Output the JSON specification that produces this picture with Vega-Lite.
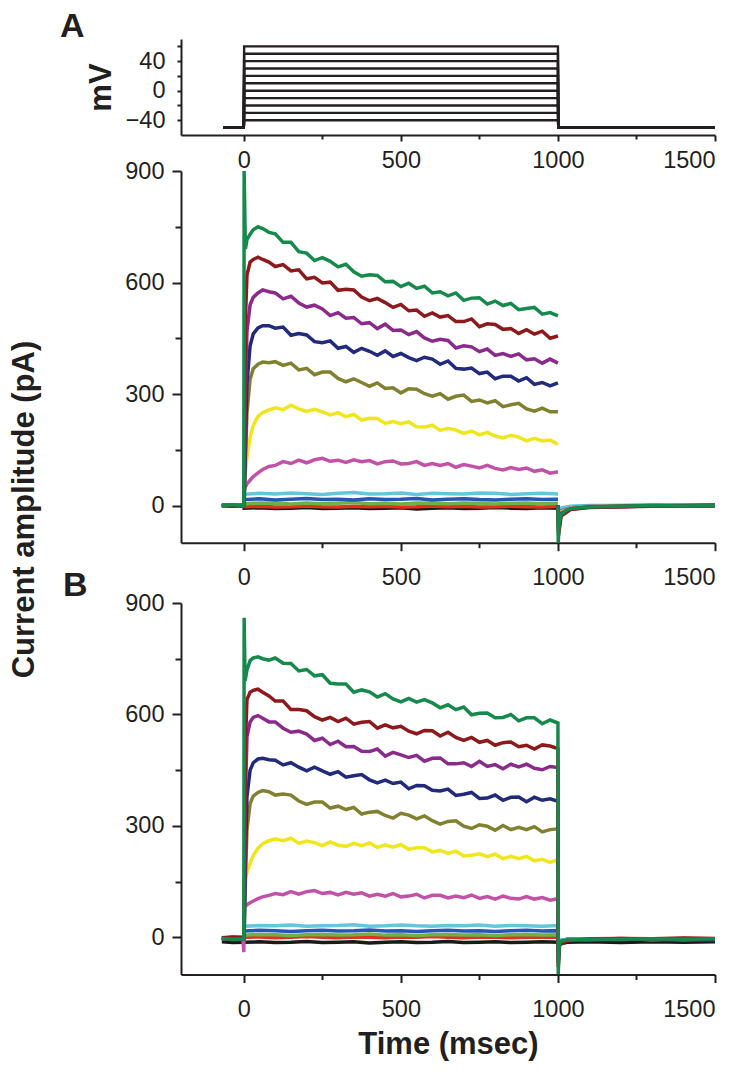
{
"$schema": "https://vega.github.io/schema/vega-lite/v6.json",
"padding": {"left": 8, "top": 10, "right": 5, "bottom": 5},
"config": {
 "view": {"stroke": null},
 "axis": {"grid": false, "domainColor": "#231f20", "domainWidth": 2, "tickColor": "#231f20", "tickWidth": 2, "labelColor": "#231f20", "labelFont": "Liberation Sans", "labelFontSize": 23.5, "titleFont": "Liberation Sans", "titleFontSize": 31, "titleFontWeight": "bold", "titleColor": "#231f20"},
 "title": {"font": "Liberation Sans", "fontSize": 34, "fontWeight": "bold", "color": "#231f20", "anchor": "start", "frame": "group"}
},
"datasets": {
"mv": [
{"k":-40,"t":-65,"v":-50},{"k":-40,"t":0,"v":-50},{"k":-40,"t":1,"v":-40},{"k":-40,"t":1000,"v":-40},{"k":-40,"t":1001,"v":-50},{"k":-40,"t":1500,"v":-50},
{"k":-30,"t":-65,"v":-50},{"k":-30,"t":0,"v":-50},{"k":-30,"t":1,"v":-30},{"k":-30,"t":1000,"v":-30},{"k":-30,"t":1001,"v":-50},{"k":-30,"t":1500,"v":-50},
{"k":-20,"t":-65,"v":-50},{"k":-20,"t":0,"v":-50},{"k":-20,"t":1,"v":-20},{"k":-20,"t":1000,"v":-20},{"k":-20,"t":1001,"v":-50},{"k":-20,"t":1500,"v":-50},
{"k":-10,"t":-65,"v":-50},{"k":-10,"t":0,"v":-50},{"k":-10,"t":1,"v":-10},{"k":-10,"t":1000,"v":-10},{"k":-10,"t":1001,"v":-50},{"k":-10,"t":1500,"v":-50},
{"k":0,"t":-65,"v":-50},{"k":0,"t":0,"v":-50},{"k":0,"t":1,"v":0},{"k":0,"t":1000,"v":0},{"k":0,"t":1001,"v":-50},{"k":0,"t":1500,"v":-50},
{"k":10,"t":-65,"v":-50},{"k":10,"t":0,"v":-50},{"k":10,"t":1,"v":10},{"k":10,"t":1000,"v":10},{"k":10,"t":1001,"v":-50},{"k":10,"t":1500,"v":-50},
{"k":20,"t":-65,"v":-50},{"k":20,"t":0,"v":-50},{"k":20,"t":1,"v":20},{"k":20,"t":1000,"v":20},{"k":20,"t":1001,"v":-50},{"k":20,"t":1500,"v":-50},
{"k":30,"t":-65,"v":-50},{"k":30,"t":0,"v":-50},{"k":30,"t":1,"v":30},{"k":30,"t":1000,"v":30},{"k":30,"t":1001,"v":-50},{"k":30,"t":1500,"v":-50},
{"k":40,"t":-65,"v":-50},{"k":40,"t":0,"v":-50},{"k":40,"t":1,"v":40},{"k":40,"t":1000,"v":40},{"k":40,"t":1001,"v":-50},{"k":40,"t":1500,"v":-50},
{"k":50,"t":-65,"v":-50},{"k":50,"t":0,"v":-50},{"k":50,"t":1,"v":50},{"k":50,"t":1000,"v":50},{"k":50,"t":1001,"v":-50},{"k":50,"t":1500,"v":-50},
{"k":60,"t":-65,"v":-50},{"k":60,"t":0,"v":-50},{"k":60,"t":1,"v":60},{"k":60,"t":1000,"v":60},{"k":60,"t":1001,"v":-50},{"k":60,"t":1500,"v":-50}
],
"cur": [
{"p":"A","c":"k","t":-70,"v":-2},{"p":"A","c":"k","t":-35,"v":1},{"p":"A","c":"k","t":0,"v":-1},
{"p":"A","c":"k","t":1,"v":-7},{"p":"A","c":"k","t":50,"v":-6},{"p":"A","c":"k","t":100,"v":-8},{"p":"A","c":"k","t":150,"v":-7},{"p":"A","c":"k","t":200,"v":-5},{"p":"A","c":"k","t":250,"v":-8},{"p":"A","c":"k","t":300,"v":-7},{"p":"A","c":"k","t":350,"v":-6},{"p":"A","c":"k","t":400,"v":-8},{"p":"A","c":"k","t":450,"v":-7},{"p":"A","c":"k","t":500,"v":-6},{"p":"A","c":"k","t":550,"v":-9},{"p":"A","c":"k","t":600,"v":-7},{"p":"A","c":"k","t":650,"v":-6},{"p":"A","c":"k","t":700,"v":-8},{"p":"A","c":"k","t":750,"v":-7},{"p":"A","c":"k","t":800,"v":-5},{"p":"A","c":"k","t":850,"v":-7},{"p":"A","c":"k","t":900,"v":-8},{"p":"A","c":"k","t":950,"v":-6},{"p":"A","c":"k","t":1000,"v":-7},
{"p":"A","c":"k","s":1,"t":1000,"v":-3},{"p":"A","c":"k","s":1,"t":1002,"v":-30},{"p":"A","c":"k","s":1,"t":1010,"v":-14},{"p":"A","c":"k","s":1,"t":1040,"v":-7},{"p":"A","c":"k","s":1,"t":1100,"v":-3},{"p":"A","c":"k","s":1,"t":1300,"v":-1},{"p":"A","c":"k","s":1,"t":1500,"v":-2},
{"p":"A","c":"r","t":-70,"v":1},{"p":"A","c":"r","t":-35,"v":-1},{"p":"A","c":"r","t":0,"v":0},
{"p":"A","c":"r","t":1,"v":-3},{"p":"A","c":"r","t":50,"v":-2},{"p":"A","c":"r","t":100,"v":-4},{"p":"A","c":"r","t":150,"v":-3},{"p":"A","c":"r","t":200,"v":-1},{"p":"A","c":"r","t":250,"v":-3},{"p":"A","c":"r","t":300,"v":-4},{"p":"A","c":"r","t":350,"v":-2},{"p":"A","c":"r","t":400,"v":-3},{"p":"A","c":"r","t":450,"v":-2},{"p":"A","c":"r","t":500,"v":-4},{"p":"A","c":"r","t":550,"v":-3},{"p":"A","c":"r","t":600,"v":-1},{"p":"A","c":"r","t":650,"v":-3},{"p":"A","c":"r","t":700,"v":-2},{"p":"A","c":"r","t":750,"v":-4},{"p":"A","c":"r","t":800,"v":-3},{"p":"A","c":"r","t":850,"v":-2},{"p":"A","c":"r","t":900,"v":-3},{"p":"A","c":"r","t":950,"v":-4},{"p":"A","c":"r","t":1000,"v":-2},
{"p":"A","c":"r","s":1,"t":1000,"v":-1},{"p":"A","c":"r","s":1,"t":1002,"v":-25},{"p":"A","c":"r","s":1,"t":1010,"v":-10},{"p":"A","c":"r","s":1,"t":1040,"v":-5},{"p":"A","c":"r","s":1,"t":1100,"v":-2},{"p":"A","c":"r","s":1,"t":1300,"v":0},{"p":"A","c":"r","s":1,"t":1500,"v":1},
{"p":"A","c":"lg","t":-70,"v":0},{"p":"A","c":"lg","t":-35,"v":2},{"p":"A","c":"lg","t":0,"v":1},
{"p":"A","c":"lg","t":1,"v":5},{"p":"A","c":"lg","t":50,"v":7},{"p":"A","c":"lg","t":100,"v":6},{"p":"A","c":"lg","t":150,"v":4},{"p":"A","c":"lg","t":200,"v":7},{"p":"A","c":"lg","t":250,"v":5},{"p":"A","c":"lg","t":300,"v":6},{"p":"A","c":"lg","t":350,"v":8},{"p":"A","c":"lg","t":400,"v":5},{"p":"A","c":"lg","t":450,"v":6},{"p":"A","c":"lg","t":500,"v":4},{"p":"A","c":"lg","t":550,"v":7},{"p":"A","c":"lg","t":600,"v":6},{"p":"A","c":"lg","t":650,"v":5},{"p":"A","c":"lg","t":700,"v":7},{"p":"A","c":"lg","t":750,"v":6},{"p":"A","c":"lg","t":800,"v":4},{"p":"A","c":"lg","t":850,"v":6},{"p":"A","c":"lg","t":900,"v":7},{"p":"A","c":"lg","t":950,"v":5},{"p":"A","c":"lg","t":1000,"v":6},
{"p":"A","c":"lg","s":1,"t":1000,"v":1},{"p":"A","c":"lg","s":1,"t":1002,"v":-20},{"p":"A","c":"lg","s":1,"t":1010,"v":-8},{"p":"A","c":"lg","s":1,"t":1040,"v":-3},{"p":"A","c":"lg","s":1,"t":1100,"v":-1},{"p":"A","c":"lg","s":1,"t":1300,"v":1},{"p":"A","c":"lg","s":1,"t":1500,"v":0},
{"p":"A","c":"b","t":-70,"v":-1},{"p":"A","c":"b","t":-35,"v":0},{"p":"A","c":"b","t":0,"v":2},
{"p":"A","c":"b","t":1,"v":16},{"p":"A","c":"b","t":50,"v":18},{"p":"A","c":"b","t":100,"v":15},{"p":"A","c":"b","t":150,"v":17},{"p":"A","c":"b","t":200,"v":19},{"p":"A","c":"b","t":250,"v":16},{"p":"A","c":"b","t":300,"v":17},{"p":"A","c":"b","t":350,"v":15},{"p":"A","c":"b","t":400,"v":18},{"p":"A","c":"b","t":450,"v":16},{"p":"A","c":"b","t":500,"v":17},{"p":"A","c":"b","t":550,"v":19},{"p":"A","c":"b","t":600,"v":15},{"p":"A","c":"b","t":650,"v":17},{"p":"A","c":"b","t":700,"v":18},{"p":"A","c":"b","t":750,"v":16},{"p":"A","c":"b","t":800,"v":15},{"p":"A","c":"b","t":850,"v":17},{"p":"A","c":"b","t":900,"v":18},{"p":"A","c":"b","t":950,"v":16},{"p":"A","c":"b","t":1000,"v":17},
{"p":"A","c":"b","s":1,"t":1000,"v":0},{"p":"A","c":"b","s":1,"t":1002,"v":-22},{"p":"A","c":"b","s":1,"t":1010,"v":-9},{"p":"A","c":"b","s":1,"t":1040,"v":-4},{"p":"A","c":"b","s":1,"t":1100,"v":-1},{"p":"A","c":"b","s":1,"t":1300,"v":0},{"p":"A","c":"b","s":1,"t":1500,"v":1},
{"p":"A","c":"cy","t":-70,"v":1},{"p":"A","c":"cy","t":-35,"v":-1},{"p":"A","c":"cy","t":0,"v":0},
{"p":"A","c":"cy","t":1,"v":30},{"p":"A","c":"cy","t":50,"v":33},{"p":"A","c":"cy","t":100,"v":31},{"p":"A","c":"cy","t":150,"v":34},{"p":"A","c":"cy","t":200,"v":32},{"p":"A","c":"cy","t":250,"v":30},{"p":"A","c":"cy","t":300,"v":33},{"p":"A","c":"cy","t":350,"v":35},{"p":"A","c":"cy","t":400,"v":31},{"p":"A","c":"cy","t":450,"v":32},{"p":"A","c":"cy","t":500,"v":34},{"p":"A","c":"cy","t":550,"v":30},{"p":"A","c":"cy","t":600,"v":33},{"p":"A","c":"cy","t":650,"v":32},{"p":"A","c":"cy","t":700,"v":31},{"p":"A","c":"cy","t":750,"v":34},{"p":"A","c":"cy","t":800,"v":33},{"p":"A","c":"cy","t":850,"v":30},{"p":"A","c":"cy","t":900,"v":32},{"p":"A","c":"cy","t":950,"v":33},{"p":"A","c":"cy","t":1000,"v":31},
{"p":"A","c":"cy","s":1,"t":1000,"v":1},{"p":"A","c":"cy","s":1,"t":1002,"v":-18},{"p":"A","c":"cy","s":1,"t":1010,"v":-7},{"p":"A","c":"cy","s":1,"t":1040,"v":-2},{"p":"A","c":"cy","s":1,"t":1100,"v":0},{"p":"A","c":"cy","s":1,"t":1300,"v":1},{"p":"A","c":"cy","s":1,"t":1500,"v":0},
{"p":"A","c":"pk","t":-70,"v":0},{"p":"A","c":"pk","t":-35,"v":1},{"p":"A","c":"pk","t":0,"v":-1},
{"p":"A","c":"pk","t":1,"v":40},{"p":"A","c":"pk","t":5,"v":50},{"p":"A","c":"pk","t":10,"v":58},{"p":"A","c":"pk","t":20,"v":68},{"p":"A","c":"pk","t":30,"v":78},{"p":"A","c":"pk","t":45,"v":88},{"p":"A","c":"pk","t":60,"v":97},{"p":"A","c":"pk","t":80,"v":105},
{"p":"A","c":"pk","t":100,"v":108},{"p":"A","c":"pk","t":125,"v":118},{"p":"A","c":"pk","t":150,"v":113},{"p":"A","c":"pk","t":175,"v":122},{"p":"A","c":"pk","t":200,"v":115},{"p":"A","c":"pk","t":225,"v":123},{"p":"A","c":"pk","t":250,"v":127},{"p":"A","c":"pk","t":275,"v":119},{"p":"A","c":"pk","t":300,"v":122},{"p":"A","c":"pk","t":325,"v":116},{"p":"A","c":"pk","t":350,"v":123},{"p":"A","c":"pk","t":375,"v":118},{"p":"A","c":"pk","t":400,"v":121},{"p":"A","c":"pk","t":425,"v":112},{"p":"A","c":"pk","t":450,"v":118},{"p":"A","c":"pk","t":475,"v":120},{"p":"A","c":"pk","t":500,"v":112},{"p":"A","c":"pk","t":525,"v":113},{"p":"A","c":"pk","t":550,"v":118},{"p":"A","c":"pk","t":575,"v":108},{"p":"A","c":"pk","t":600,"v":113},{"p":"A","c":"pk","t":625,"v":108},{"p":"A","c":"pk","t":650,"v":113},{"p":"A","c":"pk","t":675,"v":103},{"p":"A","c":"pk","t":700,"v":110},{"p":"A","c":"pk","t":725,"v":106},{"p":"A","c":"pk","t":750,"v":101},{"p":"A","c":"pk","t":775,"v":108},{"p":"A","c":"pk","t":800,"v":100},{"p":"A","c":"pk","t":825,"v":96},{"p":"A","c":"pk","t":850,"v":102},{"p":"A","c":"pk","t":875,"v":97},{"p":"A","c":"pk","t":900,"v":101},{"p":"A","c":"pk","t":925,"v":92},{"p":"A","c":"pk","t":950,"v":96},{"p":"A","c":"pk","t":975,"v":87},{"p":"A","c":"pk","t":1000,"v":91},
{"p":"A","c":"pk","s":1,"t":1000,"v":0},{"p":"A","c":"pk","s":1,"t":1002,"v":-35},{"p":"A","c":"pk","s":1,"t":1010,"v":-14},{"p":"A","c":"pk","s":1,"t":1040,"v":-6},{"p":"A","c":"pk","s":1,"t":1100,"v":-2},{"p":"A","c":"pk","s":1,"t":1300,"v":-1},{"p":"A","c":"pk","s":1,"t":1500,"v":0},
{"p":"A","c":"y","t":-70,"v":-1},{"p":"A","c":"y","t":-35,"v":0},{"p":"A","c":"y","t":0,"v":1},
{"p":"A","c":"y","t":1,"v":50},{"p":"A","c":"y","t":5,"v":90},{"p":"A","c":"y","t":10,"v":130},{"p":"A","c":"y","t":20,"v":184},{"p":"A","c":"y","t":30,"v":215},{"p":"A","c":"y","t":45,"v":240},{"p":"A","c":"y","t":60,"v":250},{"p":"A","c":"y","t":80,"v":257},
{"p":"A","c":"y","t":100,"v":263},{"p":"A","c":"y","t":125,"v":258},{"p":"A","c":"y","t":150,"v":270},{"p":"A","c":"y","t":175,"v":260},{"p":"A","c":"y","t":200,"v":253},{"p":"A","c":"y","t":225,"v":259},{"p":"A","c":"y","t":250,"v":252},{"p":"A","c":"y","t":275,"v":244},{"p":"A","c":"y","t":300,"v":250},{"p":"A","c":"y","t":325,"v":239},{"p":"A","c":"y","t":350,"v":245},{"p":"A","c":"y","t":375,"v":230},{"p":"A","c":"y","t":400,"v":235},{"p":"A","c":"y","t":425,"v":234},{"p":"A","c":"y","t":450,"v":221},{"p":"A","c":"y","t":475,"v":226},{"p":"A","c":"y","t":500,"v":220},{"p":"A","c":"y","t":525,"v":225},{"p":"A","c":"y","t":550,"v":212},{"p":"A","c":"y","t":575,"v":211},{"p":"A","c":"y","t":600,"v":216},{"p":"A","c":"y","t":625,"v":202},{"p":"A","c":"y","t":650,"v":208},{"p":"A","c":"y","t":675,"v":203},{"p":"A","c":"y","t":700,"v":194},{"p":"A","c":"y","t":725,"v":200},{"p":"A","c":"y","t":750,"v":190},{"p":"A","c":"y","t":775,"v":197},{"p":"A","c":"y","t":800,"v":187},{"p":"A","c":"y","t":825,"v":182},{"p":"A","c":"y","t":850,"v":189},{"p":"A","c":"y","t":875,"v":184},{"p":"A","c":"y","t":900,"v":174},{"p":"A","c":"y","t":925,"v":181},{"p":"A","c":"y","t":950,"v":174},{"p":"A","c":"y","t":975,"v":176},{"p":"A","c":"y","t":1000,"v":165},
{"p":"A","c":"y","s":1,"t":1000,"v":-1},{"p":"A","c":"y","s":1,"t":1002,"v":-45},{"p":"A","c":"y","s":1,"t":1010,"v":-18},{"p":"A","c":"y","s":1,"t":1040,"v":-7},{"p":"A","c":"y","s":1,"t":1100,"v":-3},{"p":"A","c":"y","s":1,"t":1300,"v":-1},{"p":"A","c":"y","s":1,"t":1500,"v":0},
{"p":"A","c":"o","t":-70,"v":1},{"p":"A","c":"o","t":-35,"v":-1},{"p":"A","c":"o","t":0,"v":0},
{"p":"A","c":"o","t":1,"v":5},{"p":"A","c":"o","t":5,"v":120},{"p":"A","c":"o","t":10,"v":250},{"p":"A","c":"o","t":20,"v":340},{"p":"A","c":"o","t":30,"v":368},{"p":"A","c":"o","t":45,"v":380},{"p":"A","c":"o","t":60,"v":386},{"p":"A","c":"o","t":80,"v":384},
{"p":"A","c":"o","t":100,"v":387},{"p":"A","c":"o","t":125,"v":377},{"p":"A","c":"o","t":150,"v":383},{"p":"A","c":"o","t":175,"v":365},{"p":"A","c":"o","t":200,"v":369},{"p":"A","c":"o","t":225,"v":352},{"p":"A","c":"o","t":250,"v":359},{"p":"A","c":"o","t":275,"v":359},{"p":"A","c":"o","t":300,"v":342},{"p":"A","c":"o","t":325,"v":333},{"p":"A","c":"o","t":350,"v":341},{"p":"A","c":"o","t":375,"v":331},{"p":"A","c":"o","t":400,"v":321},{"p":"A","c":"o","t":425,"v":330},{"p":"A","c":"o","t":450,"v":315},{"p":"A","c":"o","t":475,"v":317},{"p":"A","c":"o","t":500,"v":303},{"p":"A","c":"o","t":525,"v":314},{"p":"A","c":"o","t":550,"v":313},{"p":"A","c":"o","t":575,"v":301},{"p":"A","c":"o","t":600,"v":294},{"p":"A","c":"o","t":625,"v":301},{"p":"A","c":"o","t":650,"v":286},{"p":"A","c":"o","t":675,"v":294},{"p":"A","c":"o","t":700,"v":297},{"p":"A","c":"o","t":725,"v":280},{"p":"A","c":"o","t":750,"v":284},{"p":"A","c":"o","t":775,"v":276},{"p":"A","c":"o","t":800,"v":282},{"p":"A","c":"o","t":825,"v":266},{"p":"A","c":"o","t":850,"v":271},{"p":"A","c":"o","t":875,"v":275},{"p":"A","c":"o","t":900,"v":260},{"p":"A","c":"o","t":925,"v":254},{"p":"A","c":"o","t":950,"v":262},{"p":"A","c":"o","t":975,"v":252},{"p":"A","c":"o","t":1000,"v":252},
{"p":"A","c":"o","s":1,"t":1000,"v":-1},{"p":"A","c":"o","s":1,"t":1002,"v":-55},{"p":"A","c":"o","s":1,"t":1010,"v":-20},{"p":"A","c":"o","s":1,"t":1040,"v":-8},{"p":"A","c":"o","s":1,"t":1100,"v":-3},{"p":"A","c":"o","s":1,"t":1300,"v":0},{"p":"A","c":"o","s":1,"t":1500,"v":-1},
{"p":"A","c":"n","t":-70,"v":0},{"p":"A","c":"n","t":-35,"v":-2},{"p":"A","c":"n","t":0,"v":1},
{"p":"A","c":"n","t":1,"v":5},{"p":"A","c":"n","t":5,"v":150},{"p":"A","c":"n","t":10,"v":330},{"p":"A","c":"n","t":20,"v":430},{"p":"A","c":"n","t":30,"v":462},{"p":"A","c":"n","t":45,"v":478},{"p":"A","c":"n","t":60,"v":484},{"p":"A","c":"n","t":80,"v":484},
{"p":"A","c":"n","t":100,"v":477},{"p":"A","c":"n","t":125,"v":480},{"p":"A","c":"n","t":150,"v":458},{"p":"A","c":"n","t":175,"v":463},{"p":"A","c":"n","t":200,"v":459},{"p":"A","c":"n","t":225,"v":441},{"p":"A","c":"n","t":250,"v":438},{"p":"A","c":"n","t":275,"v":443},{"p":"A","c":"n","t":300,"v":423},{"p":"A","c":"n","t":325,"v":428},{"p":"A","c":"n","t":350,"v":412},{"p":"A","c":"n","t":375,"v":423},{"p":"A","c":"n","t":400,"v":415},{"p":"A","c":"n","t":425,"v":404},{"p":"A","c":"n","t":450,"v":416},{"p":"A","c":"n","t":475,"v":401},{"p":"A","c":"n","t":500,"v":409},{"p":"A","c":"n","t":525,"v":398},{"p":"A","c":"n","t":550,"v":390},{"p":"A","c":"n","t":575,"v":399},{"p":"A","c":"n","t":600,"v":394},{"p":"A","c":"n","t":625,"v":380},{"p":"A","c":"n","t":650,"v":389},{"p":"A","c":"n","t":675,"v":369},{"p":"A","c":"n","t":700,"v":367},{"p":"A","c":"n","t":725,"v":370},{"p":"A","c":"n","t":750,"v":355},{"p":"A","c":"n","t":775,"v":359},{"p":"A","c":"n","t":800,"v":341},{"p":"A","c":"n","t":825,"v":348},{"p":"A","c":"n","t":850,"v":348},{"p":"A","c":"n","t":875,"v":335},{"p":"A","c":"n","t":900,"v":344},{"p":"A","c":"n","t":925,"v":326},{"p":"A","c":"n","t":950,"v":331},{"p":"A","c":"n","t":975,"v":322},{"p":"A","c":"n","t":1000,"v":330},
{"p":"A","c":"n","s":1,"t":1000,"v":0},{"p":"A","c":"n","s":1,"t":1002,"v":-60},{"p":"A","c":"n","s":1,"t":1010,"v":-22},{"p":"A","c":"n","s":1,"t":1040,"v":-9},{"p":"A","c":"n","s":1,"t":1100,"v":-4},{"p":"A","c":"n","s":1,"t":1300,"v":-1},{"p":"A","c":"n","s":1,"t":1500,"v":0},
{"p":"A","c":"pu","t":-70,"v":-1},{"p":"A","c":"pu","t":-35,"v":1},{"p":"A","c":"pu","t":0,"v":0},
{"p":"A","c":"pu","t":1,"v":10},{"p":"A","c":"pu","t":5,"v":300},{"p":"A","c":"pu","t":10,"v":470},{"p":"A","c":"pu","t":20,"v":540},{"p":"A","c":"pu","t":30,"v":560},{"p":"A","c":"pu","t":45,"v":572},{"p":"A","c":"pu","t":60,"v":580},{"p":"A","c":"pu","t":80,"v":575},
{"p":"A","c":"pu","t":100,"v":572},{"p":"A","c":"pu","t":125,"v":556},{"p":"A","c":"pu","t":150,"v":563},{"p":"A","c":"pu","t":175,"v":545},{"p":"A","c":"pu","t":200,"v":534},{"p":"A","c":"pu","t":225,"v":539},{"p":"A","c":"pu","t":250,"v":529},{"p":"A","c":"pu","t":275,"v":511},{"p":"A","c":"pu","t":300,"v":519},{"p":"A","c":"pu","t":325,"v":504},{"p":"A","c":"pu","t":350,"v":506},{"p":"A","c":"pu","t":375,"v":489},{"p":"A","c":"pu","t":400,"v":492},{"p":"A","c":"pu","t":425,"v":476},{"p":"A","c":"pu","t":450,"v":488},{"p":"A","c":"pu","t":475,"v":471},{"p":"A","c":"pu","t":500,"v":472},{"p":"A","c":"pu","t":525,"v":460},{"p":"A","c":"pu","t":550,"v":468},{"p":"A","c":"pu","t":575,"v":451},{"p":"A","c":"pu","t":600,"v":442},{"p":"A","c":"pu","t":625,"v":447},{"p":"A","c":"pu","t":650,"v":444},{"p":"A","c":"pu","t":675,"v":424},{"p":"A","c":"pu","t":700,"v":430},{"p":"A","c":"pu","t":725,"v":427},{"p":"A","c":"pu","t":750,"v":414},{"p":"A","c":"pu","t":775,"v":421},{"p":"A","c":"pu","t":800,"v":404},{"p":"A","c":"pu","t":825,"v":409},{"p":"A","c":"pu","t":850,"v":401},{"p":"A","c":"pu","t":875,"v":408},{"p":"A","c":"pu","t":900,"v":392},{"p":"A","c":"pu","t":925,"v":395},{"p":"A","c":"pu","t":950,"v":383},{"p":"A","c":"pu","t":975,"v":394},{"p":"A","c":"pu","t":1000,"v":383},
{"p":"A","c":"pu","s":1,"t":1000,"v":-1},{"p":"A","c":"pu","s":1,"t":1002,"v":-70},{"p":"A","c":"pu","s":1,"t":1010,"v":-25},{"p":"A","c":"pu","s":1,"t":1040,"v":-10},{"p":"A","c":"pu","s":1,"t":1100,"v":-4},{"p":"A","c":"pu","s":1,"t":1300,"v":-1},{"p":"A","c":"pu","s":1,"t":1500,"v":1},
{"p":"A","c":"dr","t":-70,"v":1},{"p":"A","c":"dr","t":-35,"v":0},{"p":"A","c":"dr","t":0,"v":-1},
{"p":"A","c":"dr","t":1,"v":30},{"p":"A","c":"dr","t":5,"v":500},{"p":"A","c":"dr","t":10,"v":620},{"p":"A","c":"dr","t":20,"v":655},{"p":"A","c":"dr","t":30,"v":662},{"p":"A","c":"dr","t":45,"v":668},{"p":"A","c":"dr","t":60,"v":662},{"p":"A","c":"dr","t":80,"v":655},
{"p":"A","c":"dr","t":100,"v":643},{"p":"A","c":"dr","t":125,"v":648},{"p":"A","c":"dr","t":150,"v":631},{"p":"A","c":"dr","t":175,"v":634},{"p":"A","c":"dr","t":200,"v":610},{"p":"A","c":"dr","t":225,"v":614},{"p":"A","c":"dr","t":250,"v":599},{"p":"A","c":"dr","t":275,"v":601},{"p":"A","c":"dr","t":300,"v":579},{"p":"A","c":"dr","t":325,"v":582},{"p":"A","c":"dr","t":350,"v":580},{"p":"A","c":"dr","t":375,"v":561},{"p":"A","c":"dr","t":400,"v":551},{"p":"A","c":"dr","t":425,"v":557},{"p":"A","c":"dr","t":450,"v":546},{"p":"A","c":"dr","t":475,"v":533},{"p":"A","c":"dr","t":500,"v":541},{"p":"A","c":"dr","t":525,"v":524},{"p":"A","c":"dr","t":550,"v":526},{"p":"A","c":"dr","t":575,"v":509},{"p":"A","c":"dr","t":600,"v":518},{"p":"A","c":"dr","t":625,"v":507},{"p":"A","c":"dr","t":650,"v":511},{"p":"A","c":"dr","t":675,"v":495},{"p":"A","c":"dr","t":700,"v":495},{"p":"A","c":"dr","t":725,"v":502},{"p":"A","c":"dr","t":750,"v":481},{"p":"A","c":"dr","t":775,"v":489},{"p":"A","c":"dr","t":800,"v":487},{"p":"A","c":"dr","t":825,"v":474},{"p":"A","c":"dr","t":850,"v":476},{"p":"A","c":"dr","t":875,"v":463},{"p":"A","c":"dr","t":900,"v":473},{"p":"A","c":"dr","t":925,"v":461},{"p":"A","c":"dr","t":950,"v":469},{"p":"A","c":"dr","t":975,"v":450},{"p":"A","c":"dr","t":1000,"v":456},
{"p":"A","c":"dr","s":1,"t":1000,"v":0},{"p":"A","c":"dr","s":1,"t":1002,"v":-80},{"p":"A","c":"dr","s":1,"t":1010,"v":-28},{"p":"A","c":"dr","s":1,"t":1040,"v":-11},{"p":"A","c":"dr","s":1,"t":1100,"v":-5},{"p":"A","c":"dr","s":1,"t":1300,"v":-2},{"p":"A","c":"dr","s":1,"t":1500,"v":0},
{"p":"A","c":"g","t":-70,"v":0},{"p":"A","c":"g","t":-35,"v":2},{"p":"A","c":"g","t":0,"v":-1},
{"p":"A","c":"g","t":1,"v":900},{"p":"A","c":"g","t":5,"v":690},{"p":"A","c":"g","t":10,"v":715},{"p":"A","c":"g","t":20,"v":730},{"p":"A","c":"g","t":30,"v":742},{"p":"A","c":"g","t":45,"v":750},{"p":"A","c":"g","t":60,"v":745},{"p":"A","c":"g","t":80,"v":735},
{"p":"A","c":"g","t":100,"v":731},{"p":"A","c":"g","t":125,"v":708},{"p":"A","c":"g","t":150,"v":708},{"p":"A","c":"g","t":175,"v":683},{"p":"A","c":"g","t":200,"v":679},{"p":"A","c":"g","t":225,"v":659},{"p":"A","c":"g","t":250,"v":667},{"p":"A","c":"g","t":275,"v":657},{"p":"A","c":"g","t":300,"v":642},{"p":"A","c":"g","t":325,"v":649},{"p":"A","c":"g","t":350,"v":629},{"p":"A","c":"g","t":375,"v":617},{"p":"A","c":"g","t":400,"v":621},{"p":"A","c":"g","t":425,"v":619},{"p":"A","c":"g","t":450,"v":602},{"p":"A","c":"g","t":475,"v":603},{"p":"A","c":"g","t":500,"v":589},{"p":"A","c":"g","t":525,"v":598},{"p":"A","c":"g","t":550,"v":584},{"p":"A","c":"g","t":575,"v":590},{"p":"A","c":"g","t":600,"v":572},{"p":"A","c":"g","t":625,"v":575},{"p":"A","c":"g","t":650,"v":564},{"p":"A","c":"g","t":675,"v":572},{"p":"A","c":"g","t":700,"v":552},{"p":"A","c":"g","t":725,"v":558},{"p":"A","c":"g","t":750,"v":559},{"p":"A","c":"g","t":775,"v":542},{"p":"A","c":"g","t":800,"v":550},{"p":"A","c":"g","t":825,"v":538},{"p":"A","c":"g","t":850,"v":544},{"p":"A","c":"g","t":875,"v":527},{"p":"A","c":"g","t":900,"v":530},{"p":"A","c":"g","t":925,"v":533},{"p":"A","c":"g","t":950,"v":515},{"p":"A","c":"g","t":975,"v":519},{"p":"A","c":"g","t":1000,"v":510},
{"p":"A","c":"g","s":1,"t":1000,"v":-2},{"p":"A","c":"g","s":1,"t":1001,"v":-100},{"p":"A","c":"g","s":1,"t":1004,"v":-45},{"p":"A","c":"g","s":1,"t":1010,"v":-24},{"p":"A","c":"g","s":1,"t":1025,"v":-13},{"p":"A","c":"g","s":1,"t":1050,"v":-7},{"p":"A","c":"g","s":1,"t":1100,"v":-4},{"p":"A","c":"g","s":1,"t":1200,"v":-2},{"p":"A","c":"g","s":1,"t":1300,"v":0},{"p":"A","c":"g","s":1,"t":1400,"v":-1},{"p":"A","c":"g","s":1,"t":1500,"v":0},

{"p":"B","c":"k","t":-70,"v":-12},{"p":"B","c":"k","t":-35,"v":-14},{"p":"B","c":"k","t":0,"v":-13},
{"p":"B","c":"k","t":1,"v":-13},{"p":"B","c":"k","t":50,"v":-12},{"p":"B","c":"k","t":100,"v":-14},{"p":"B","c":"k","t":150,"v":-13},{"p":"B","c":"k","t":200,"v":-11},{"p":"B","c":"k","t":250,"v":-14},{"p":"B","c":"k","t":300,"v":-13},{"p":"B","c":"k","t":350,"v":-12},{"p":"B","c":"k","t":400,"v":-15},{"p":"B","c":"k","t":450,"v":-13},{"p":"B","c":"k","t":500,"v":-12},{"p":"B","c":"k","t":550,"v":-14},{"p":"B","c":"k","t":600,"v":-13},{"p":"B","c":"k","t":650,"v":-11},{"p":"B","c":"k","t":700,"v":-14},{"p":"B","c":"k","t":750,"v":-13},{"p":"B","c":"k","t":800,"v":-12},{"p":"B","c":"k","t":850,"v":-14},{"p":"B","c":"k","t":900,"v":-13},{"p":"B","c":"k","t":950,"v":-12},{"p":"B","c":"k","t":1000,"v":-13},
{"p":"B","c":"k","t":1001,"v":-40},{"p":"B","c":"k","t":1005,"v":-18},{"p":"B","c":"k","t":1030,"v":-13},{"p":"B","c":"k","t":1100,"v":-12},{"p":"B","c":"k","t":1200,"v":-14},{"p":"B","c":"k","t":1300,"v":-12},{"p":"B","c":"k","t":1400,"v":-13},{"p":"B","c":"k","t":1500,"v":-12},
{"p":"B","c":"r","t":-70,"v":-2},{"p":"B","c":"r","t":-35,"v":0},{"p":"B","c":"r","t":0,"v":-1},
{"p":"B","c":"r","t":1,"v":0},{"p":"B","c":"r","t":50,"v":1},{"p":"B","c":"r","t":100,"v":-1},{"p":"B","c":"r","t":150,"v":0},{"p":"B","c":"r","t":200,"v":2},{"p":"B","c":"r","t":250,"v":0},{"p":"B","c":"r","t":300,"v":-1},{"p":"B","c":"r","t":350,"v":1},{"p":"B","c":"r","t":400,"v":0},{"p":"B","c":"r","t":450,"v":-1},{"p":"B","c":"r","t":500,"v":1},{"p":"B","c":"r","t":550,"v":0},{"p":"B","c":"r","t":600,"v":2},{"p":"B","c":"r","t":650,"v":0},{"p":"B","c":"r","t":700,"v":-1},{"p":"B","c":"r","t":750,"v":1},{"p":"B","c":"r","t":800,"v":0},{"p":"B","c":"r","t":850,"v":-1},{"p":"B","c":"r","t":900,"v":0},{"p":"B","c":"r","t":950,"v":1},{"p":"B","c":"r","t":1000,"v":0},
{"p":"B","c":"r","t":1001,"v":-30},{"p":"B","c":"r","t":1005,"v":-10},{"p":"B","c":"r","t":1030,"v":-5},{"p":"B","c":"r","t":1100,"v":-4},{"p":"B","c":"r","t":1200,"v":-3},{"p":"B","c":"r","t":1300,"v":-5},{"p":"B","c":"r","t":1400,"v":-3},{"p":"B","c":"r","t":1500,"v":-4},
{"p":"B","c":"lg","t":-70,"v":-4},{"p":"B","c":"lg","t":-35,"v":-2},{"p":"B","c":"lg","t":0,"v":-3},
{"p":"B","c":"lg","t":1,"v":6},{"p":"B","c":"lg","t":50,"v":8},{"p":"B","c":"lg","t":100,"v":7},{"p":"B","c":"lg","t":150,"v":5},{"p":"B","c":"lg","t":200,"v":7},{"p":"B","c":"lg","t":250,"v":8},{"p":"B","c":"lg","t":300,"v":6},{"p":"B","c":"lg","t":350,"v":7},{"p":"B","c":"lg","t":400,"v":9},{"p":"B","c":"lg","t":450,"v":6},{"p":"B","c":"lg","t":500,"v":7},{"p":"B","c":"lg","t":550,"v":5},{"p":"B","c":"lg","t":600,"v":7},{"p":"B","c":"lg","t":650,"v":8},{"p":"B","c":"lg","t":700,"v":6},{"p":"B","c":"lg","t":750,"v":7},{"p":"B","c":"lg","t":800,"v":5},{"p":"B","c":"lg","t":850,"v":7},{"p":"B","c":"lg","t":900,"v":8},{"p":"B","c":"lg","t":950,"v":6},{"p":"B","c":"lg","t":1000,"v":7},
{"p":"B","c":"lg","t":1001,"v":-28},{"p":"B","c":"lg","t":1005,"v":-9},{"p":"B","c":"lg","t":1030,"v":-6},{"p":"B","c":"lg","t":1100,"v":-5},{"p":"B","c":"lg","t":1200,"v":-4},{"p":"B","c":"lg","t":1300,"v":-6},{"p":"B","c":"lg","t":1400,"v":-4},{"p":"B","c":"lg","t":1500,"v":-5},
{"p":"B","c":"b","t":-70,"v":-5},{"p":"B","c":"b","t":-35,"v":-3},{"p":"B","c":"b","t":0,"v":-4},
{"p":"B","c":"b","t":1,"v":17},{"p":"B","c":"b","t":50,"v":19},{"p":"B","c":"b","t":100,"v":18},{"p":"B","c":"b","t":150,"v":16},{"p":"B","c":"b","t":200,"v":18},{"p":"B","c":"b","t":250,"v":19},{"p":"B","c":"b","t":300,"v":17},{"p":"B","c":"b","t":350,"v":18},{"p":"B","c":"b","t":400,"v":20},{"p":"B","c":"b","t":450,"v":17},{"p":"B","c":"b","t":500,"v":18},{"p":"B","c":"b","t":550,"v":16},{"p":"B","c":"b","t":600,"v":18},{"p":"B","c":"b","t":650,"v":19},{"p":"B","c":"b","t":700,"v":17},{"p":"B","c":"b","t":750,"v":18},{"p":"B","c":"b","t":800,"v":16},{"p":"B","c":"b","t":850,"v":18},{"p":"B","c":"b","t":900,"v":19},{"p":"B","c":"b","t":950,"v":17},{"p":"B","c":"b","t":1000,"v":18},
{"p":"B","c":"b","t":1001,"v":-26},{"p":"B","c":"b","t":1005,"v":-9},{"p":"B","c":"b","t":1030,"v":-5},{"p":"B","c":"b","t":1100,"v":-6},{"p":"B","c":"b","t":1200,"v":-4},{"p":"B","c":"b","t":1300,"v":-5},{"p":"B","c":"b","t":1400,"v":-6},{"p":"B","c":"b","t":1500,"v":-4},
{"p":"B","c":"cy","t":-70,"v":-3},{"p":"B","c":"cy","t":-35,"v":-5},{"p":"B","c":"cy","t":0,"v":-4},
{"p":"B","c":"cy","t":1,"v":30},{"p":"B","c":"cy","t":50,"v":32},{"p":"B","c":"cy","t":100,"v":31},{"p":"B","c":"cy","t":150,"v":33},{"p":"B","c":"cy","t":200,"v":30},{"p":"B","c":"cy","t":250,"v":31},{"p":"B","c":"cy","t":300,"v":32},{"p":"B","c":"cy","t":350,"v":34},{"p":"B","c":"cy","t":400,"v":30},{"p":"B","c":"cy","t":450,"v":31},{"p":"B","c":"cy","t":500,"v":33},{"p":"B","c":"cy","t":550,"v":31},{"p":"B","c":"cy","t":600,"v":30},{"p":"B","c":"cy","t":650,"v":32},{"p":"B","c":"cy","t":700,"v":31},{"p":"B","c":"cy","t":750,"v":33},{"p":"B","c":"cy","t":800,"v":30},{"p":"B","c":"cy","t":850,"v":32},{"p":"B","c":"cy","t":900,"v":31},{"p":"B","c":"cy","t":950,"v":30},{"p":"B","c":"cy","t":1000,"v":32},
{"p":"B","c":"cy","t":1001,"v":-24},{"p":"B","c":"cy","t":1005,"v":-8},{"p":"B","c":"cy","t":1030,"v":-6},{"p":"B","c":"cy","t":1100,"v":-4},{"p":"B","c":"cy","t":1200,"v":-5},{"p":"B","c":"cy","t":1300,"v":-4},{"p":"B","c":"cy","t":1400,"v":-6},{"p":"B","c":"cy","t":1500,"v":-5},
{"p":"B","c":"pk","t":-70,"v":-2},{"p":"B","c":"pk","t":-35,"v":-4},{"p":"B","c":"pk","t":-3,"v":-3},{"p":"B","c":"pk","t":0,"v":-40},
{"p":"B","c":"pk","t":1,"v":80},{"p":"B","c":"pk","t":5,"v":84},{"p":"B","c":"pk","t":10,"v":88},{"p":"B","c":"pk","t":20,"v":93},{"p":"B","c":"pk","t":30,"v":98},{"p":"B","c":"pk","t":45,"v":104},{"p":"B","c":"pk","t":60,"v":109},{"p":"B","c":"pk","t":80,"v":113},
{"p":"B","c":"pk","t":100,"v":118},{"p":"B","c":"pk","t":125,"v":115},{"p":"B","c":"pk","t":150,"v":123},{"p":"B","c":"pk","t":175,"v":116},{"p":"B","c":"pk","t":200,"v":123},{"p":"B","c":"pk","t":225,"v":126},{"p":"B","c":"pk","t":250,"v":118},{"p":"B","c":"pk","t":275,"v":121},{"p":"B","c":"pk","t":300,"v":114},{"p":"B","c":"pk","t":325,"v":121},{"p":"B","c":"pk","t":350,"v":116},{"p":"B","c":"pk","t":375,"v":120},{"p":"B","c":"pk","t":400,"v":111},{"p":"B","c":"pk","t":425,"v":116},{"p":"B","c":"pk","t":450,"v":111},{"p":"B","c":"pk","t":475,"v":118},{"p":"B","c":"pk","t":500,"v":109},{"p":"B","c":"pk","t":525,"v":111},{"p":"B","c":"pk","t":550,"v":116},{"p":"B","c":"pk","t":575,"v":106},{"p":"B","c":"pk","t":600,"v":113},{"p":"B","c":"pk","t":625,"v":113},{"p":"B","c":"pk","t":650,"v":106},{"p":"B","c":"pk","t":675,"v":111},{"p":"B","c":"pk","t":700,"v":107},{"p":"B","c":"pk","t":725,"v":114},{"p":"B","c":"pk","t":750,"v":105},{"p":"B","c":"pk","t":775,"v":110},{"p":"B","c":"pk","t":800,"v":103},{"p":"B","c":"pk","t":825,"v":111},{"p":"B","c":"pk","t":850,"v":105},{"p":"B","c":"pk","t":875,"v":103},{"p":"B","c":"pk","t":900,"v":110},{"p":"B","c":"pk","t":925,"v":103},{"p":"B","c":"pk","t":950,"v":107},{"p":"B","c":"pk","t":975,"v":100},{"p":"B","c":"pk","t":1000,"v":104},
{"p":"B","c":"pk","t":1001,"v":-35},{"p":"B","c":"pk","t":1005,"v":-12},{"p":"B","c":"pk","t":1030,"v":-7},{"p":"B","c":"pk","t":1100,"v":-5},{"p":"B","c":"pk","t":1200,"v":-6},{"p":"B","c":"pk","t":1300,"v":-4},{"p":"B","c":"pk","t":1400,"v":-5},{"p":"B","c":"pk","t":1500,"v":-6},
{"p":"B","c":"y","t":-70,"v":-5},{"p":"B","c":"y","t":-35,"v":-3},{"p":"B","c":"y","t":0,"v":-4},
{"p":"B","c":"y","t":1,"v":145},{"p":"B","c":"y","t":5,"v":160},{"p":"B","c":"y","t":10,"v":175},{"p":"B","c":"y","t":20,"v":200},{"p":"B","c":"y","t":30,"v":220},{"p":"B","c":"y","t":45,"v":240},{"p":"B","c":"y","t":60,"v":252},{"p":"B","c":"y","t":80,"v":260},
{"p":"B","c":"y","t":100,"v":265},{"p":"B","c":"y","t":125,"v":260},{"p":"B","c":"y","t":150,"v":267},{"p":"B","c":"y","t":175,"v":253},{"p":"B","c":"y","t":200,"v":259},{"p":"B","c":"y","t":225,"v":255},{"p":"B","c":"y","t":250,"v":247},{"p":"B","c":"y","t":275,"v":257},{"p":"B","c":"y","t":300,"v":248},{"p":"B","c":"y","t":325,"v":245},{"p":"B","c":"y","t":350,"v":253},{"p":"B","c":"y","t":375,"v":247},{"p":"B","c":"y","t":400,"v":254},{"p":"B","c":"y","t":425,"v":242},{"p":"B","c":"y","t":450,"v":249},{"p":"B","c":"y","t":475,"v":243},{"p":"B","c":"y","t":500,"v":250},{"p":"B","c":"y","t":525,"v":237},{"p":"B","c":"y","t":550,"v":241},{"p":"B","c":"y","t":575,"v":241},{"p":"B","c":"y","t":600,"v":230},{"p":"B","c":"y","t":625,"v":234},{"p":"B","c":"y","t":650,"v":226},{"p":"B","c":"y","t":675,"v":232},{"p":"B","c":"y","t":700,"v":219},{"p":"B","c":"y","t":725,"v":221},{"p":"B","c":"y","t":750,"v":225},{"p":"B","c":"y","t":775,"v":217},{"p":"B","c":"y","t":800,"v":224},{"p":"B","c":"y","t":825,"v":212},{"p":"B","c":"y","t":850,"v":218},{"p":"B","c":"y","t":875,"v":212},{"p":"B","c":"y","t":900,"v":218},{"p":"B","c":"y","t":925,"v":206},{"p":"B","c":"y","t":950,"v":210},{"p":"B","c":"y","t":975,"v":202},{"p":"B","c":"y","t":1000,"v":209},
{"p":"B","c":"y","t":1001,"v":-45},{"p":"B","c":"y","t":1005,"v":-14},{"p":"B","c":"y","t":1030,"v":-7},{"p":"B","c":"y","t":1100,"v":-5},{"p":"B","c":"y","t":1200,"v":-4},{"p":"B","c":"y","t":1300,"v":-6},{"p":"B","c":"y","t":1400,"v":-4},{"p":"B","c":"y","t":1500,"v":-5},
{"p":"B","c":"o","t":-70,"v":-4},{"p":"B","c":"o","t":-35,"v":-6},{"p":"B","c":"o","t":0,"v":-5},
{"p":"B","c":"o","t":1,"v":5},{"p":"B","c":"o","t":5,"v":150},{"p":"B","c":"o","t":10,"v":290},{"p":"B","c":"o","t":20,"v":360},{"p":"B","c":"o","t":30,"v":380},{"p":"B","c":"o","t":45,"v":390},{"p":"B","c":"o","t":60,"v":395},{"p":"B","c":"o","t":80,"v":392},
{"p":"B","c":"o","t":100,"v":383},{"p":"B","c":"o","t":125,"v":386},{"p":"B","c":"o","t":150,"v":383},{"p":"B","c":"o","t":175,"v":367},{"p":"B","c":"o","t":200,"v":358},{"p":"B","c":"o","t":225,"v":364},{"p":"B","c":"o","t":250,"v":364},{"p":"B","c":"o","t":275,"v":348},{"p":"B","c":"o","t":300,"v":353},{"p":"B","c":"o","t":325,"v":344},{"p":"B","c":"o","t":350,"v":350},{"p":"B","c":"o","t":375,"v":332},{"p":"B","c":"o","t":400,"v":337},{"p":"B","c":"o","t":425,"v":339},{"p":"B","c":"o","t":450,"v":328},{"p":"B","c":"o","t":475,"v":321},{"p":"B","c":"o","t":500,"v":334},{"p":"B","c":"o","t":525,"v":329},{"p":"B","c":"o","t":550,"v":319},{"p":"B","c":"o","t":575,"v":327},{"p":"B","c":"o","t":600,"v":314},{"p":"B","c":"o","t":625,"v":305},{"p":"B","c":"o","t":650,"v":312},{"p":"B","c":"o","t":675,"v":314},{"p":"B","c":"o","t":700,"v":299},{"p":"B","c":"o","t":725,"v":293},{"p":"B","c":"o","t":750,"v":303},{"p":"B","c":"o","t":775,"v":299},{"p":"B","c":"o","t":800,"v":288},{"p":"B","c":"o","t":825,"v":301},{"p":"B","c":"o","t":850,"v":290},{"p":"B","c":"o","t":875,"v":296},{"p":"B","c":"o","t":900,"v":290},{"p":"B","c":"o","t":925,"v":298},{"p":"B","c":"o","t":950,"v":284},{"p":"B","c":"o","t":975,"v":290},{"p":"B","c":"o","t":1000,"v":292},
{"p":"B","c":"o","t":1001,"v":-55},{"p":"B","c":"o","t":1005,"v":-15},{"p":"B","c":"o","t":1030,"v":-7},{"p":"B","c":"o","t":1100,"v":-6},{"p":"B","c":"o","t":1200,"v":-4},{"p":"B","c":"o","t":1300,"v":-5},{"p":"B","c":"o","t":1400,"v":-6},{"p":"B","c":"o","t":1500,"v":-4},
{"p":"B","c":"n","t":-70,"v":-3},{"p":"B","c":"n","t":-35,"v":-5},{"p":"B","c":"n","t":0,"v":-4},
{"p":"B","c":"n","t":1,"v":5},{"p":"B","c":"n","t":5,"v":200},{"p":"B","c":"n","t":10,"v":380},{"p":"B","c":"n","t":20,"v":450},{"p":"B","c":"n","t":30,"v":470},{"p":"B","c":"n","t":45,"v":480},{"p":"B","c":"n","t":60,"v":482},{"p":"B","c":"n","t":80,"v":478},
{"p":"B","c":"n","t":100,"v":477},{"p":"B","c":"n","t":125,"v":464},{"p":"B","c":"n","t":150,"v":470},{"p":"B","c":"n","t":175,"v":458},{"p":"B","c":"n","t":200,"v":448},{"p":"B","c":"n","t":225,"v":458},{"p":"B","c":"n","t":250,"v":448},{"p":"B","c":"n","t":275,"v":439},{"p":"B","c":"n","t":300,"v":446},{"p":"B","c":"n","t":325,"v":431},{"p":"B","c":"n","t":350,"v":435},{"p":"B","c":"n","t":375,"v":438},{"p":"B","c":"n","t":400,"v":424},{"p":"B","c":"n","t":425,"v":416},{"p":"B","c":"n","t":450,"v":423},{"p":"B","c":"n","t":475,"v":414},{"p":"B","c":"n","t":500,"v":418},{"p":"B","c":"n","t":525,"v":400},{"p":"B","c":"n","t":550,"v":409},{"p":"B","c":"n","t":575,"v":408},{"p":"B","c":"n","t":600,"v":396},{"p":"B","c":"n","t":625,"v":394},{"p":"B","c":"n","t":650,"v":399},{"p":"B","c":"n","t":675,"v":382},{"p":"B","c":"n","t":700,"v":385},{"p":"B","c":"n","t":725,"v":390},{"p":"B","c":"n","t":750,"v":374},{"p":"B","c":"n","t":775,"v":375},{"p":"B","c":"n","t":800,"v":383},{"p":"B","c":"n","t":825,"v":369},{"p":"B","c":"n","t":850,"v":377},{"p":"B","c":"n","t":875,"v":378},{"p":"B","c":"n","t":900,"v":365},{"p":"B","c":"n","t":925,"v":377},{"p":"B","c":"n","t":950,"v":369},{"p":"B","c":"n","t":975,"v":373},{"p":"B","c":"n","t":1000,"v":366},
{"p":"B","c":"n","t":1001,"v":-60},{"p":"B","c":"n","t":1005,"v":-16},{"p":"B","c":"n","t":1030,"v":-8},{"p":"B","c":"n","t":1100,"v":-5},{"p":"B","c":"n","t":1200,"v":-6},{"p":"B","c":"n","t":1300,"v":-4},{"p":"B","c":"n","t":1400,"v":-5},{"p":"B","c":"n","t":1500,"v":-6},
{"p":"B","c":"pu","t":-70,"v":-5},{"p":"B","c":"pu","t":-35,"v":-3},{"p":"B","c":"pu","t":0,"v":-5},
{"p":"B","c":"pu","t":1,"v":10},{"p":"B","c":"pu","t":5,"v":380},{"p":"B","c":"pu","t":10,"v":540},{"p":"B","c":"pu","t":20,"v":580},{"p":"B","c":"pu","t":30,"v":592},{"p":"B","c":"pu","t":45,"v":597},{"p":"B","c":"pu","t":60,"v":590},{"p":"B","c":"pu","t":80,"v":580},
{"p":"B","c":"pu","t":100,"v":580},{"p":"B","c":"pu","t":125,"v":563},{"p":"B","c":"pu","t":150,"v":552},{"p":"B","c":"pu","t":175,"v":555},{"p":"B","c":"pu","t":200,"v":547},{"p":"B","c":"pu","t":225,"v":530},{"p":"B","c":"pu","t":250,"v":536},{"p":"B","c":"pu","t":275,"v":519},{"p":"B","c":"pu","t":300,"v":528},{"p":"B","c":"pu","t":325,"v":513},{"p":"B","c":"pu","t":350,"v":514},{"p":"B","c":"pu","t":375,"v":501},{"p":"B","c":"pu","t":400,"v":500},{"p":"B","c":"pu","t":425,"v":507},{"p":"B","c":"pu","t":450,"v":488},{"p":"B","c":"pu","t":475,"v":498},{"p":"B","c":"pu","t":500,"v":491},{"p":"B","c":"pu","t":525,"v":484},{"p":"B","c":"pu","t":550,"v":490},{"p":"B","c":"pu","t":575,"v":474},{"p":"B","c":"pu","t":600,"v":482},{"p":"B","c":"pu","t":625,"v":483},{"p":"B","c":"pu","t":650,"v":467},{"p":"B","c":"pu","t":675,"v":467},{"p":"B","c":"pu","t":700,"v":470},{"p":"B","c":"pu","t":725,"v":460},{"p":"B","c":"pu","t":750,"v":474},{"p":"B","c":"pu","t":775,"v":460},{"p":"B","c":"pu","t":800,"v":465},{"p":"B","c":"pu","t":825,"v":454},{"p":"B","c":"pu","t":850,"v":466},{"p":"B","c":"pu","t":875,"v":459},{"p":"B","c":"pu","t":900,"v":466},{"p":"B","c":"pu","t":925,"v":455},{"p":"B","c":"pu","t":950,"v":451},{"p":"B","c":"pu","t":975,"v":460},{"p":"B","c":"pu","t":1000,"v":457},
{"p":"B","c":"pu","t":1001,"v":-70},{"p":"B","c":"pu","t":1005,"v":-18},{"p":"B","c":"pu","t":1030,"v":-8},{"p":"B","c":"pu","t":1100,"v":-6},{"p":"B","c":"pu","t":1200,"v":-4},{"p":"B","c":"pu","t":1300,"v":-6},{"p":"B","c":"pu","t":1400,"v":-5},{"p":"B","c":"pu","t":1500,"v":-4},
{"p":"B","c":"dr","t":-70,"v":-1},{"p":"B","c":"dr","t":-35,"v":1},{"p":"B","c":"dr","t":0,"v":0},
{"p":"B","c":"dr","t":1,"v":20},{"p":"B","c":"dr","t":5,"v":520},{"p":"B","c":"dr","t":10,"v":640},{"p":"B","c":"dr","t":20,"v":660},{"p":"B","c":"dr","t":30,"v":665},{"p":"B","c":"dr","t":45,"v":668},{"p":"B","c":"dr","t":60,"v":660},{"p":"B","c":"dr","t":80,"v":650},
{"p":"B","c":"dr","t":100,"v":636},{"p":"B","c":"dr","t":125,"v":636},{"p":"B","c":"dr","t":150,"v":613},{"p":"B","c":"dr","t":175,"v":613},{"p":"B","c":"dr","t":200,"v":610},{"p":"B","c":"dr","t":225,"v":594},{"p":"B","c":"dr","t":250,"v":585},{"p":"B","c":"dr","t":275,"v":592},{"p":"B","c":"dr","t":300,"v":581},{"p":"B","c":"dr","t":325,"v":590},{"p":"B","c":"dr","t":350,"v":574},{"p":"B","c":"dr","t":375,"v":579},{"p":"B","c":"dr","t":400,"v":581},{"p":"B","c":"dr","t":425,"v":563},{"p":"B","c":"dr","t":450,"v":572},{"p":"B","c":"dr","t":475,"v":564},{"p":"B","c":"dr","t":500,"v":568},{"p":"B","c":"dr","t":525,"v":555},{"p":"B","c":"dr","t":550,"v":548},{"p":"B","c":"dr","t":575,"v":557},{"p":"B","c":"dr","t":600,"v":556},{"p":"B","c":"dr","t":625,"v":542},{"p":"B","c":"dr","t":650,"v":552},{"p":"B","c":"dr","t":675,"v":538},{"p":"B","c":"dr","t":700,"v":530},{"p":"B","c":"dr","t":725,"v":538},{"p":"B","c":"dr","t":750,"v":525},{"p":"B","c":"dr","t":775,"v":530},{"p":"B","c":"dr","t":800,"v":517},{"p":"B","c":"dr","t":825,"v":524},{"p":"B","c":"dr","t":850,"v":526},{"p":"B","c":"dr","t":875,"v":513},{"p":"B","c":"dr","t":900,"v":517},{"p":"B","c":"dr","t":925,"v":507},{"p":"B","c":"dr","t":950,"v":518},{"p":"B","c":"dr","t":975,"v":515},{"p":"B","c":"dr","t":1000,"v":508},
{"p":"B","c":"dr","t":1001,"v":-80},{"p":"B","c":"dr","t":1005,"v":-20},{"p":"B","c":"dr","t":1030,"v":-9},{"p":"B","c":"dr","t":1100,"v":-5},{"p":"B","c":"dr","t":1200,"v":-3},{"p":"B","c":"dr","t":1300,"v":-4},{"p":"B","c":"dr","t":1400,"v":-2},{"p":"B","c":"dr","t":1500,"v":-3},
{"p":"B","c":"g","t":-70,"v":-3},{"p":"B","c":"g","t":-35,"v":-5},{"p":"B","c":"g","t":0,"v":-4},
{"p":"B","c":"g","t":1,"v":860},{"p":"B","c":"g","t":4,"v":690},{"p":"B","c":"g","t":10,"v":720},{"p":"B","c":"g","t":20,"v":745},{"p":"B","c":"g","t":30,"v":752},{"p":"B","c":"g","t":45,"v":755},{"p":"B","c":"g","t":60,"v":750},{"p":"B","c":"g","t":80,"v":746},
{"p":"B","c":"g","t":100,"v":752},{"p":"B","c":"g","t":125,"v":738},{"p":"B","c":"g","t":150,"v":737},{"p":"B","c":"g","t":175,"v":717},{"p":"B","c":"g","t":200,"v":721},{"p":"B","c":"g","t":225,"v":704},{"p":"B","c":"g","t":250,"v":707},{"p":"B","c":"g","t":275,"v":684},{"p":"B","c":"g","t":300,"v":682},{"p":"B","c":"g","t":325,"v":682},{"p":"B","c":"g","t":350,"v":660},{"p":"B","c":"g","t":375,"v":666},{"p":"B","c":"g","t":400,"v":661},{"p":"B","c":"g","t":425,"v":647},{"p":"B","c":"g","t":450,"v":656},{"p":"B","c":"g","t":475,"v":642},{"p":"B","c":"g","t":500,"v":634},{"p":"B","c":"g","t":525,"v":643},{"p":"B","c":"g","t":550,"v":633},{"p":"B","c":"g","t":575,"v":640},{"p":"B","c":"g","t":600,"v":631},{"p":"B","c":"g","t":625,"v":618},{"p":"B","c":"g","t":650,"v":626},{"p":"B","c":"g","t":675,"v":613},{"p":"B","c":"g","t":700,"v":620},{"p":"B","c":"g","t":725,"v":599},{"p":"B","c":"g","t":750,"v":603},{"p":"B","c":"g","t":775,"v":604},{"p":"B","c":"g","t":800,"v":591},{"p":"B","c":"g","t":825,"v":592},{"p":"B","c":"g","t":850,"v":600},{"p":"B","c":"g","t":875,"v":583},{"p":"B","c":"g","t":900,"v":591},{"p":"B","c":"g","t":925,"v":591},{"p":"B","c":"g","t":950,"v":575},{"p":"B","c":"g","t":975,"v":585},{"p":"B","c":"g","t":1000,"v":577},
{"p":"B","c":"g","t":1001,"v":-100},{"p":"B","c":"g","t":1004,"v":-20},{"p":"B","c":"g","t":1010,"v":-10},{"p":"B","c":"g","t":1030,"v":-7},{"p":"B","c":"g","t":1060,"v":-6},{"p":"B","c":"g","t":1100,"v":-5},{"p":"B","c":"g","t":1200,"v":-5},{"p":"B","c":"g","t":1300,"v":-4},{"p":"B","c":"g","t":1400,"v":-5},{"p":"B","c":"g","t":1500,"v":-4}
]
},
"spacing": 36,
"bounds": "flush",
"vconcat": [
 {
  "width": 534, "height": 96,
  "title": {"text": "A", "dx": -121, "baseline": "alphabetic", "offset": -32},
  "data": {"name": "mv"},
  "mark": {"type": "line", "color": "#231f20", "strokeWidth": 2.4},
  "encoding": {
   "x": {"field": "t", "type": "quantitative", "scale": {"domain": [-200, 1500], "nice": false},
     "axis": {"values": [0, 250, 500, 750, 1000, 1250, 1500], "format": "d", "labelExpr": "datum.value % 500 === 0 ? datum.label : ''", "tickSize": {"condition": {"test": "datum.value % 500 === 0", "value": 6}, "value": 4}, "labelPadding": 7, "title": null}},
   "y": {"field": "v", "type": "quantitative", "scale": {"domain": [-60, 70], "nice": false, "zero": false},
     "axis": {"values": [-40, -20, 0, 20, 40, 60], "format": "d", "labelExpr": "datum.value % 40 === 0 ? datum.label : ''", "tickSize": 4, "labelPadding": 12, "title": "mV", "titleFontSize": 31, "titleX": -80, "titleY": 48, "titleAlign": "center", "titleBaseline": "middle", "titleAngle": -90}},
   "detail": {"field": "k"}
  }
 },
 {
  "spacing": 60,
  "bounds": "flush",
  "vconcat": [
   {
    "width": 534, "height": 371.7,
    "data": {"name": "cur"},
    "transform": [{"filter": "datum.p === 'A'"}],
    "mark": {"type": "line", "strokeWidth": 3.5, "clip": true},
    "encoding": {
     "x": {"field": "t", "type": "quantitative", "scale": {"domain": [-200, 1500], "nice": false},
       "axis": {"values": [0, 250, 500, 750, 1000, 1250, 1500], "format": "d", "labelExpr": "datum.value % 500 === 0 ? datum.label : ''", "tickSize": {"condition": {"test": "datum.value % 500 === 0", "value": 8}, "value": 5}, "labelPadding": 15, "title": null}},
     "y": {"field": "v", "type": "quantitative", "scale": {"domain": [-100, 900], "nice": false},
       "axis": {"values": [0, 150, 300, 450, 600, 750, 900], "format": "d", "labelExpr": "datum.value % 300 === 0 ? datum.label : ''", "tickSize": {"condition": {"test": "datum.value % 300 === 0", "value": 9}, "value": 6}, "labelPadding": 8, "title": "Current amplitude (pA)", "titleX": -157, "titleY": 338, "titleAlign": "center", "titleBaseline": "middle", "titleAngle": -90}},
     "color": {"field": "c", "type": "nominal", "legend": null, "scale": {"domain": ["k","r","lg","b","cy","pk","y","o","n","pu","dr","g"], "range": ["#1a1a1a","#e2321e","#6cb245","#2456b4","#62c6dd","#c252a8","#f0e61e","#818131","#222a7c","#8a2b8c","#8c1a1c","#168a4c"]}},
     "detail": {"field": "s"}
    }
   },
   {
    "width": 534, "height": 371.5,
    "title": {"text": "B", "dx": -118, "baseline": "alphabetic", "offset": -39},
    "data": {"name": "cur"},
    "transform": [{"filter": "datum.p === 'B'"}],
    "mark": {"type": "line", "strokeWidth": 3.5, "clip": true},
    "encoding": {
     "x": {"field": "t", "type": "quantitative", "scale": {"domain": [-200, 1500], "nice": false},
       "axis": {"values": [0, 250, 500, 750, 1000, 1250, 1500], "format": "d", "labelExpr": "datum.value % 500 === 0 ? datum.label : ''", "tickSize": {"condition": {"test": "datum.value % 500 === 0", "value": 8}, "value": 5}, "labelPadding": 15, "title": "Time (msec)", "titlePadding": 8}},
     "y": {"field": "v", "type": "quantitative", "scale": {"domain": [-100, 900], "nice": false},
       "axis": {"values": [0, 150, 300, 450, 600, 750, 900], "format": "d", "labelExpr": "datum.value % 300 === 0 ? datum.label : ''", "tickSize": {"condition": {"test": "datum.value % 300 === 0", "value": 9}, "value": 6}, "labelPadding": 8, "title": null}},
     "color": {"field": "c", "type": "nominal", "legend": null, "scale": {"domain": ["k","r","lg","b","cy","pk","y","o","n","pu","dr","g"], "range": ["#1a1a1a","#e2321e","#6cb245","#2456b4","#62c6dd","#c252a8","#f0e61e","#818131","#222a7c","#8a2b8c","#8c1a1c","#168a4c"]}}
    }
   }
  ]
 }
]
}
